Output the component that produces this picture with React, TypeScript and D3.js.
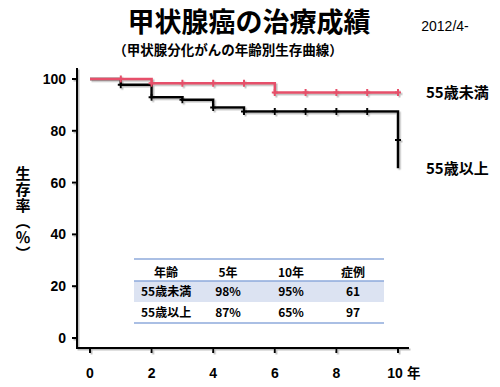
import React from 'react';
import * as d3 from 'd3';

// survival curves (year, %)
const youngSteps: [number, number][] = [[0, 100], [2, 98.4], [6, 94.8], [10, 94.8]];
const youngCensor: [number, number][] = [[1, 100], [2, 98.4], [3, 98.4], [4, 98.4], [5, 98.4], [6, 94.8], [7, 94.8], [8, 94.8], [9, 94.8], [10, 94.8]];
const oldSteps: [number, number][] = [[0, 100], [1, 97.8], [2, 93], [3, 92], [4, 89], [5, 87.5], [10, 65.5]];
const oldCensor: [number, number][] = [[1, 97.8], [2, 93], [3, 92], [4, 89], [5, 87.5], [6, 87.5], [7, 87.5], [8, 87.5], [9, 87.5], [10, 76.4]];

const yTicks = [0, 20, 40, 60, 80, 100];
const xTicks = [0, 2, 4, 6, 8, 10];

const tableHead = ['年齢', '5年', '10年', '症例'];
const tableRows = [
    ['55歳未満', '98%', '95%', '61'],
    ['55歳以上', '87%', '65%', '97'],
];

const RED = '#e6506a';
const FONT = '"Noto Sans CJK JP", "Liberation Sans", sans-serif';
const LATIN = '"Liberation Sans", Arial, sans-serif';

const App = () => {
    const x = d3.scaleLinear().domain([0, 10]).range([90, 398]);
    const y = d3.scaleLinear().domain([0, 100]).range([338, 79]);

    const stepLine = d3.line<[number, number]>()
        .x(d => x(d[0]))
        .y(d => y(d[1]))
        .curve(d3.curveStepAfter);

    // censor marks drawn as small crosses
    const cross = (pts: [number, number][]) =>
        pts.map(([t, v]) => `M${x(t) - 3},${y(v)}h6M${x(t)},${y(v) - 3.5}v7`).join('');

    // table columns
    const colX = [166, 228, 291, 353];
    const rowY = [273, 292, 313];

    return (
        <svg width={500} height={387} style={{ position: 'absolute', left: 0, top: 0, background: '#fff' }}
            fontFamily={FONT}>
            <defs>
                <filter id="sh" x="-10%" y="-10%" width="130%" height="130%">
                    <feDropShadow dx="1.5" dy="1.5" stdDeviation="0.7" floodColor="#888" floodOpacity="0.55" />
                </filter>
            </defs>

            {/* titles */}
            <text x={249} y={32} textAnchor="middle" fontSize={27} fontWeight="bold">甲状腺癌の治療成績</text>
            <text x={228} y={55} textAnchor="middle" fontSize={13.5} fontWeight="bold">（甲状腺分化がんの年齢別生存曲線）</text>
            <text x={445} y={31} textAnchor="middle" fontSize={14} fontFamily={LATIN}>2012/4-</text>

            {/* y axis title, vertical writing */}
            <text x={23} y={166} fontSize={15} fontWeight="bold"
                style={{ writingMode: 'vertical-rl' }} letterSpacing={1}>生存率（％）</text>

            {/* axes */}
            <g filter="url(#sh)" stroke="#000" strokeWidth={2} fill="none">
                <path d={`M77,68V348H409`} />
                {yTicks.map(t => <path key={t} d={`M72,${y(t)}H77`} />)}
                {xTicks.map(t => <path key={t} d={`M${x(t)},348V353`} />)}
            </g>
            <g fontSize={14} fontWeight="bold" fontFamily={LATIN}>
                {yTicks.map(t => (
                    <text key={t} x={66} y={y(t) + 5} textAnchor="end">{t}</text>
                ))}
                {xTicks.map(t => (
                    <text key={t} x={x(t) - (t === 10 ? 3 : 0)} y={378} textAnchor="middle">{t}</text>
                ))}
                <text x={407} y={378} fontFamily={FONT} fontSize={13.5}>年</text>
            </g>

            {/* curves */}
            <g filter="url(#sh)" fill="none" strokeWidth={2.5}>
                <path d={stepLine(oldSteps) ?? ''} stroke="#000" />
                <path d={cross(oldCensor)} stroke="#000" strokeWidth={2} />
                <path d={stepLine(youngSteps) ?? ''} stroke={RED} />
                <path d={cross(youngCensor)} stroke={RED} strokeWidth={2} />
            </g>

            <g fontSize={15} fontWeight="bold">
                <text x={426} y={98}>55歳未満</text>
                <text x={426} y={174}>55歳以上</text>
            </g>

            {/* table */}
            <rect x={134} y={281} width={250} height={21} fill="#dce3f2" />
            <g stroke="#8eaadb" strokeWidth={1.5}>
                <line x1={134} x2={384} y1={259} y2={259} />
                <line x1={134} x2={384} y1={281} y2={281} />
                <line x1={134} x2={384} y1={323} y2={323} />
            </g>
            <g fontSize={12} fontWeight="bold">
                {tableHead.map((h, i) => (
                    <text key={h} x={colX[i]} y={rowY[0] + 4} textAnchor="middle">{h}</text>
                ))}
                {tableRows.map((r, ri) => r.map((c, ci) => (
                    <text key={ri + '-' + ci} x={ci === 0 ? 141 : colX[ci]} y={rowY[ri + 1] + 4}
                        textAnchor={ci === 0 ? 'start' : 'middle'}>{c}</text>
                )))}
            </g>
        </svg>
    );
};

export default App;
